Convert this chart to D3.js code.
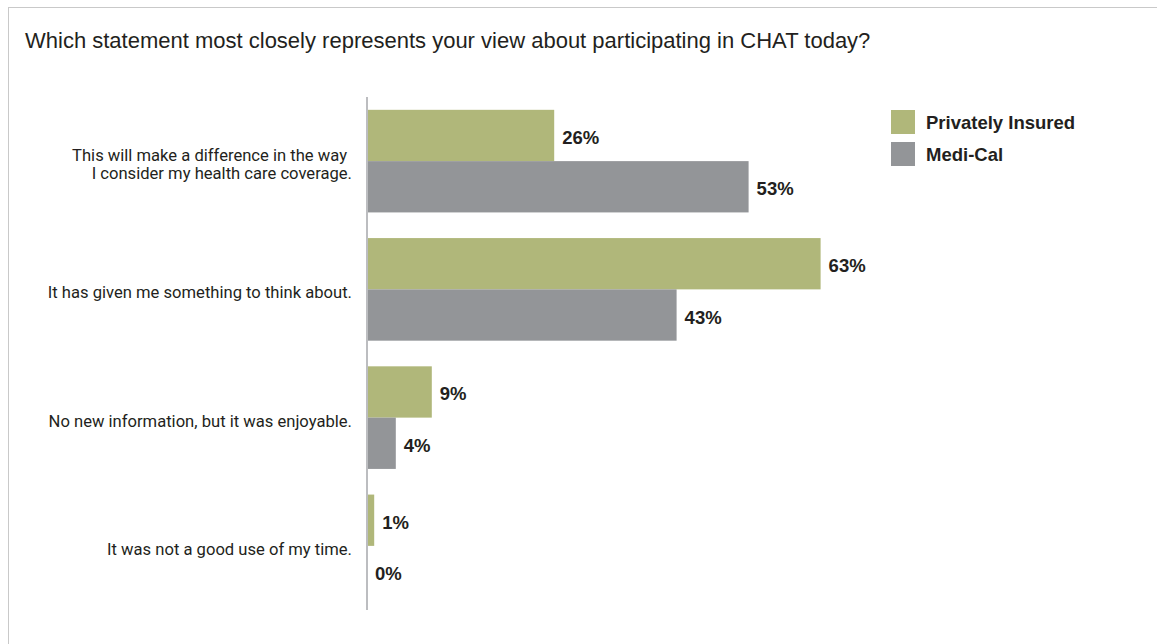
<!DOCTYPE html>
<html>
<head>
<meta charset="utf-8">
<script src="https://cdn.jsdelivr.net/npm/d3@7/dist/d3.min.js"></script>
<style>
  html, body { margin: 0; padding: 0; background: #fff; }
  svg { display: block; }
</style>
</head>
<body>
<svg id="chart" width="1157" height="644"></svg>
<script>
const title = "Which statement most closely represents your view about participating in CHAT today?";
const categories = [
  ["This will make a difference in the way", "I consider my health care coverage."],
  ["It has given me something to think about."],
  ["No new information, but it was enjoyable."],
  ["It was not a good use of my time."]
];
const seriesNames = ["Privately Insured", "Medi-Cal"];
const privatelyInsured = [26, 63, 9, 1];
const mediCal = [53, 43, 4, 0];
const colors = ["#b0b77a", "#939598"];

const svg = d3.select("#chart");

// frame
svg.append("rect")
  .attr("x", 8.5).attr("y", 7.5)
  .attr("width", 1170).attr("height", 660)
  .attr("fill", "none").attr("stroke", "#c9c9c9").attr("stroke-width", 1);

svg.append("text")
  .attr("x", 25).attr("y", 48)
  .attr("font-family", "Liberation Sans, Arial, sans-serif")
  .attr("font-size", 22)
  .attr("fill", "#231f20")
  .text(title);

const x = d3.scaleLinear().domain([0, 100]).range([367, 1087]);
const y = d3.scaleBand().domain(d3.range(categories.length)).range([97, 610])
  .paddingInner(0.2).paddingOuter(0.1);
const ySub = d3.scaleBand().domain([0, 1]).range([0, y.bandwidth()]);

const rows = categories.map((c, i) => ({ i, label: c, values: [privatelyInsured[i], mediCal[i]] }));

const g = svg.append("g");
const groups = g.selectAll("g.grp").data(rows).enter().append("g")
  .attr("transform", d => `translate(0,${y(d.i)})`);

groups.selectAll("rect").data(d => d.values.map((v, s) => ({ v, s }))).enter().append("rect")
  .attr("x", x(0))
  .attr("y", d => ySub(d.s))
  .attr("width", d => x(d.v) - x(0))
  .attr("height", ySub.bandwidth())
  .attr("fill", d => colors[d.s]);

groups.selectAll("text.val").data(d => d.values.map((v, s) => ({ v, s }))).enter().append("text")
  .attr("class", "val")
  .attr("x", d => x(d.v) + 8)
  .attr("y", d => ySub(d.s) + ySub.bandwidth() / 2 + 8.5)
  .attr("font-family", "Liberation Sans, Arial, sans-serif")
  .attr("font-weight", "bold")
  .attr("font-size", 18.5)
  .attr("fill", "#231f20")
  .text(d => d.v + "%");

// category labels
groups.each(function(d) {
  const n = d.label.length;
  const t = d3.select(this).append("text")
    .attr("text-anchor", "end")
    .attr("font-family", "Roboto, Liberation Sans, sans-serif")
    .attr("font-size", 16.6)
    .attr("fill", "#231f20");
  d.label.forEach((line, k) => {
    t.append("tspan")
      .attr("x", n > 1 && k === 0 ? 347 : 352)
      .attr("y", y.bandwidth() / 2 + 9 - (n - 1) * 9 + k * 18)
      .text(line);
  });
});

// axis line
svg.append("line")
  .attr("x1", x(0)).attr("x2", x(0))
  .attr("y1", 97).attr("y2", 610)
  .attr("stroke", "#bcbdc0").attr("stroke-width", 2);

// legend
const leg = svg.append("g").attr("transform", "translate(891,110)");
seriesNames.forEach((name, i) => {
  leg.append("rect").attr("x", 0).attr("y", i * 32).attr("width", 24).attr("height", 24).attr("fill", colors[i]);
  leg.append("text").attr("x", 35).attr("y", i * 32 + 19)
    .attr("font-family", "Liberation Sans, Arial, sans-serif")
    .attr("font-weight", "bold").attr("font-size", 18.5)
    .attr("fill", "#231f20")
    .text(name);
});
</script>
</body>
</html>
